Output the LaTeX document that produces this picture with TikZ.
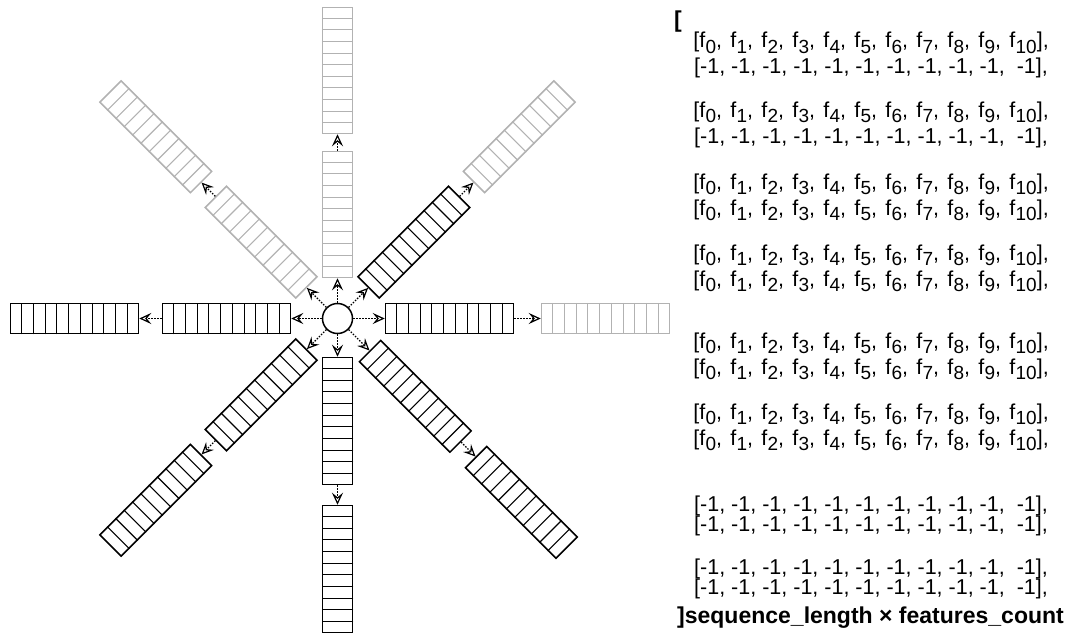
\documentclass[tikz,border=0pt]{standalone}
\usepackage{fontspec}
\setmainfont{Liberation Sans}
\usetikzlibrary{arrows.meta,calc}
\definecolor{lgray}{RGB}{178,178,178}
\newcommand\fsb[1]{\kern0.3pt\raisebox{-0.25em}{\fontsize{19}{19}\selectfont #1}}
\newcommand\fline{{\spaceskip=8.2pt\relax[f\fsb{0}, f\fsb{1}, f\fsb{2}, f\fsb{3}, f\fsb{4}, f\fsb{5}, f\fsb{6}, f\fsb{7}, f\fsb{8}, f\fsb{9}, f\fsb{10}],}}
\newcommand\mline{[-1, -1, -1, -1, -1, -1, -1, -1, -1, -1, \ -1],}
\newcommand\mkbar[5]{%
  \node[barbox, draw=#5, minimum width=#4pt, rotate=#2] (#1) at ($(c.center)+({#2}:{#3+#4/2})$) {};
  \foreach \k in {1,...,10}{\draw[draw=#5, line width=1.1pt] ($(#1.north west)!\k/11!(#1.north east)$) -- ($(#1.south west)!\k/11!(#1.south east)$);}
}
\begin{document}
\begin{tikzpicture}[x=1pt,y=1pt,
  barbox/.style={rectangle, minimum height=30pt, inner sep=0pt, line width=1.5pt},
  hub/.style={circle, draw, line width=1.5pt, minimum size=30pt, inner sep=0pt},
  conn/.style={line width=1.4pt, dash pattern=on 1.5pt off 1.5pt,
    -{Stealth[fill=white, length=12pt, width=11pt, inset=4.5pt, line width=1.2pt]}},
  txt/.style={font=\fontsize{21.5}{24}\selectfont, inner sep=0pt, anchor=base},
  btxt/.style={font=\fontsize{23}{26}\selectfont\bfseries, inner sep=0pt, anchor=base west}]
\useasboundingbox (0,0) rectangle (1075,-634);
\node[hub] (c) at (337.5,-318.5) {};
% east
\mkbar{e1}{0}{48}{128}{black}
\mkbar{e2}{0}{204}{128}{lgray}
% west
\mkbar{w1}{180}{47}{128}{black}
\mkbar{w2}{180}{199}{128}{black}
% north
\mkbar{n1}{90}{41}{126}{lgray}
\mkbar{n2}{90}{185}{126}{lgray}
% south
\mkbar{s1}{270}{39}{127}{black}
\mkbar{s2}{270}{187}{127}{black}
% north east
\mkbar{ne1}{45}{44}{128}{black}
\mkbar{ne2}{45}{193}{128}{lgray}
% north west
\mkbar{nw1}{135}{44}{128}{lgray}
\mkbar{nw2}{135}{193}{128}{lgray}
% south west
\mkbar{sw1}{225}{44}{128}{black}
\mkbar{sw2}{225}{193}{128}{black}
% south east
\mkbar{se1}{315}{46}{128}{black}
\mkbar{se2}{315}{196}{128}{black}
\foreach \d in {e,w,n,s,ne,nw,sw,se}{
  \draw[conn] (c) -- (\d1.west);
  \draw[conn] (\d1.east) -- (\d2.west);
}
% text
\node[btxt] (ob) at (674,-28) {[};
\node[txt] (l1) at (871,-48) {\fline};
\node[txt] (l2) at (871,-74) {\mline};
\node[txt] (l3) at (871,-117) {\fline};
\node[txt] (l4) at (871,-143) {\mline};
\node[txt] (l5) at (871,-189) {\fline};
\node[txt] (l6) at (871,-215) {\fline};
\node[txt] (l7) at (871,-260) {\fline};
\node[txt] (l8) at (871,-286) {\fline};
\node[txt] (l9) at (871,-348) {\fline};
\node[txt] (l10) at (871,-374) {\fline};
\node[txt] (l11) at (871,-419) {\fline};
\node[txt] (l12) at (871,-445) {\fline};
\node[txt] (l13) at (871,-511) {\mline};
\node[txt] (l14) at (871,-531) {\mline};
\node[txt] (l15) at (871,-574) {\mline};
\node[txt] (l16) at (871,-594) {\mline};
\node[btxt] (cb) at (677,-623) {]sequence\_length × features\_count};
\end{tikzpicture}
\end{document}
